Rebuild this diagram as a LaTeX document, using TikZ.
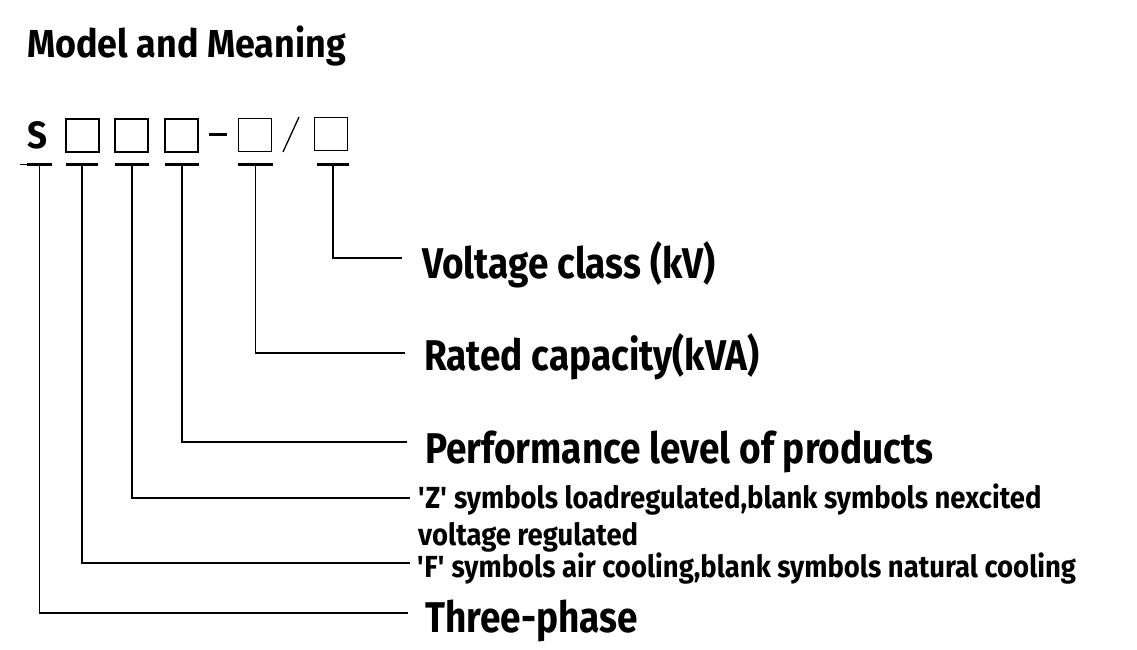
\documentclass[tikz,border=0pt]{standalone}
\usepackage{fontspec}
\newfontfamily\lab{Fira Sans}[FakeStretch=0.86]
\newfontfamily\labs{Fira Sans}[FakeStretch=0.90]
\newfontfamily\labt{Fira Sans}[FakeStretch=0.92]
\begin{document}
\begin{tikzpicture}[x=1pt,y=-1pt,
  box/.style={draw,line width=1.3pt,minimum width=33pt,minimum height=33pt,inner sep=0pt},
  bar/.style={fill=black,draw=none,minimum width=33pt,minimum height=3pt,inner sep=0pt},
  conn/.style={line width=1.3pt},
  big/.style={anchor=base west,inner sep=0pt,font=\lab\bfseries\fontsize{43}{50}\selectfont},
  small/.style={anchor=base west,inner sep=0pt,font=\labs\bfseries\fontsize{30.5}{37}\selectfont}]
\useasboundingbox (0,0) rectangle (1137,649);
% title
\node[anchor=base west,inner sep=0pt,font=\labt\bfseries\fontsize{39}{45}\selectfont] (title) at (27,57) {Model and Meaning};
% model code
\node[anchor=base west,inner sep=0pt,font=\labt\bfseries\fontsize{38}{44}\selectfont] (S) at (27,148) {S};
\node[box] (b1) at (82.5,135.5) {};
\node[box] (b2) at (131.5,135.5) {};
\node[box] (b3) at (181.5,135.5) {};
\node[box] (b4) at (255,135) {};
\node[box] (b5) at (331,134) {};
\node[fill=black,minimum width=18pt,minimum height=3pt,inner sep=0pt] (dash) at (218,134) {};
\coordinate (sl1) at (283,152);
\coordinate (sl2) at (299,117);
\draw[conn] (sl1) -- (sl2);
% underbars
\node[bar,minimum width=25pt] (u0) at (39.5,164) {};
\coordinate (u0l) at (20,164);
\draw[line width=1pt] (u0l) -- (u0.west);
\node[bar,minimum width=32pt] (u1) at (82,164) {};
\node[bar,minimum width=34pt] (u2) at (132,164) {};
\node[bar,minimum width=34pt] (u3) at (182,164) {};
\node[bar,minimum width=35pt] (u4) at (255.5,164) {};
\node[bar,minimum width=32pt] (u5) at (333,164) {};
% labels
\node[big] (lV) at (422,278) {Voltage class (kV)};
\node[big] (lR) at (424,370) {Rated capacity(kVA)};
\node[big] (lP) at (425,463) {Performance level of products};
\node[small] (lZ) at (418,508) {\textquotesingle Z\textquotesingle{} symbols loadregulated,blank symbols nexcited};
\node[small] (lZ2) at (418,545) {voltage regulated};
\node[small] (lF) at (417,577) {\textquotesingle F\textquotesingle{} symbols air cooling,blank symbols natural cooling};
\node[big] (lT) at (425,632) {Three-phase};
% connector ends
\coordinate (eV) at (402,258);
\coordinate (eR) at (405,353);
\coordinate (eP) at (407,442);
\coordinate (eZ) at (410,498);
\coordinate (eF) at (410,563);
\coordinate (eT) at (408,613);
\draw[conn] (u5.center) |- (eV);
\draw[conn] (u4.center) |- (eR);
\draw[conn] (u3.center) |- (eP);
\draw[conn] (u2.center) |- (eZ);
\draw[conn] (u1.center) |- (eF);
\draw[conn] (u0.center) |- (eT);
\end{tikzpicture}
\end{document}
